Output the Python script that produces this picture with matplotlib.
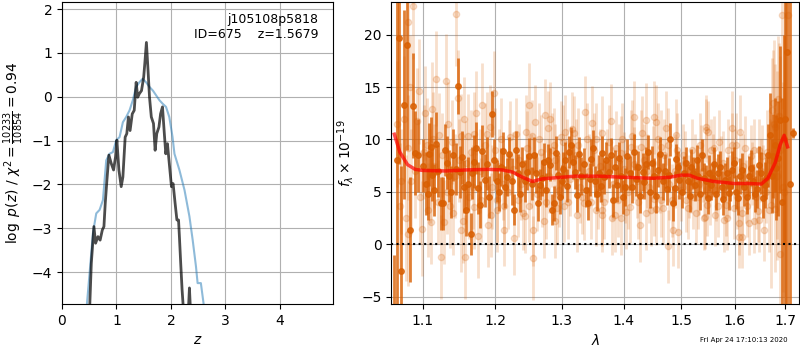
import matplotlib.pyplot as plt

# ---- left panel: log p(z) ----
z_prior = [0.458, 0.507, 0.568, 0.629, 0.69, 0.751, 0.812, 0.874, 0.935, 0.996, 1.057, 1.118,
           1.179, 1.24, 1.30, 1.36, 1.42, 1.48, 1.545, 1.61, 1.67, 1.73, 1.79, 1.85, 1.91,
           1.97, 2.02, 2.03, 2.065, 2.156, 2.25, 2.34, 2.40, 2.46, 2.49, 2.55, 2.60]
logp_prior = [-4.72, -4.02, -3.11, -2.66, -2.58, -2.36, -1.45, -1.30, -1.26, -0.99, -0.92, -0.58,
              -0.46, -0.31, -0.08, 0.22, 0.33, 0.41, 0.33, 0.22, 0.14, 0.03, -0.08, -0.16, -0.23,
              -0.46, -0.84, -0.92, -1.30, -1.67, -2.13, -2.73, -3.27, -3.87, -4.25, -4.25, -4.72]

z_chi = [0.507, 0.538, 0.556, 0.586, 0.617, 0.66, 0.70, 0.74, 0.77, 0.794, 0.825, 0.861, 0.904,
         0.947, 0.983, 1.008, 1.045, 1.087, 1.118, 1.16, 1.19, 1.22, 1.25, 1.29, 1.326, 1.362,
         1.39, 1.42, 1.46, 1.50, 1.52, 1.55, 1.58, 1.607, 1.64, 1.68, 1.71, 1.74, 1.78, 1.81,
         1.845, 1.875, 1.906, 1.936, 1.97, 2.01, 2.04, 2.077, 2.11, 2.14, 2.156, 2.18, 2.205,
         2.23, 2.28, 2.32, 2.34, 2.36]
logp_chi = [-4.86, -3.80, -3.49, -2.96, -3.34, -3.19, -3.27, -3.04, -2.96, -2.43, -1.90, -1.33,
            -1.52, -1.67, -1.37, -0.99, -1.67, -2.05, -1.83, -0.92, -0.84, -0.46, -0.77, -0.39,
            -0.31, 0.33, -0.01, 0.07, 0.14, 0.45, 0.75, 1.24, 0.60, -0.01, -0.46, -0.61, -1.22,
            -0.84, -0.69, -0.39, -0.23, -0.77, -1.30, -1.07, -1.52, -2.05, -1.98, -2.43, -2.81,
            -2.81, -3.19, -3.80, -4.40, -4.86, -5.6, -4.9, -4.36, -4.9]

# ---- right panel: spectrum ----
dark_lam = [1.062, 1.066, 1.069, 1.072, 1.0756, 1.0788, 1.0834, 1.0865, 1.090, 1.0943, 1.1047,
            1.1088, 1.1124, 1.1171, 1.124, 1.1276, 1.1318, 1.1355, 1.141, 1.147, 1.150, 1.1586,
            1.162, 1.1655, 1.170, 1.176, 1.1807, 1.185, 1.188, 1.1917, 1.195,
            1.203, 1.208, 1.214, 1.220, 1.224, 1.228, 1.233, 1.239, 1.244, 1.249, 1.254, 1.260,
            1.266, 1.2725, 1.278, 1.284, 1.2875, 1.294, 1.300, 1.305, 1.311, 1.3175, 1.3245,
            1.330, 1.335, 1.342, 1.347, 1.353, 1.3595, 1.365, 1.370, 1.375, 1.3825, 1.389, 1.396,
            1.403, 1.4106, 1.4176, 1.4247, 1.4324, 1.4383, 1.4459, 1.453, 1.460, 1.4677, 1.4753,
            1.481, 1.4854, 1.4912, 1.497, 1.505, 1.5123, 1.5184, 1.5258, 1.5319, 1.538, 1.546,
            1.552, 1.5552, 1.5613, 1.5687, 1.575, 1.581, 1.589, 1.595, 1.603, 1.611, 1.619,
            1.6276, 1.636, 1.644, 1.6507, 1.6586, 1.670, 1.676, 1.682, 1.690, 1.693, 1.697,
            1.7045, 1.710, 1.7155]
dark_flux = [-12.0, 8.0, 19.7, -2.5, 13.3, 19.0, 1.4, 13.2, 8.7, 8.5, 5.8,
             8.6, 6.6, 9.6, 3.9, 3.9, 7.8, 6.5, 8.5, 15.1, 6.9, 3.3,
             5.8, 1.0, 7.9, 5.4, 8.9, 6.1, 7.7, 4.5, 12.4,
             6.0, 7.4, 5.5, 8.6, 6.0, 3.3, 6.8, 7.7, 6.0, 8.4, 5.8, 6.8,
             5.7, 7.9, 8.0, 3.3, 3.9, 6.6, 6.0, 8.0, 8.8, 7.9, 4.7,
             6.5, 7.7, 3.9, 8.1, 6.0, 6.8, 8.7, 8.0, 6.9, 4.2, 5.7, 6.5,
             5.5, 6.8, 8.8, 7.4, 6.9, 7.7, 5.0, 6.5, 7.1, 6.0, 5.3,
             10.0, 3.9, 8.1, 6.1, 6.8, 6.0, 7.4, 5.7, 6.5, 8.5, 6.0,
             6.8, 5.7, 7.7, 6.8, 5.5, 6.1, 4.9, 7.1, 5.0, 6.5, 5.5,
             6.5, 6.0, 5.3, 6.8, 5.7, 10.4, 8.4, 7.3, 11.9, 4.0, 10.0,
             18.3, 5.8, 10.6]
dark_err = [11.0, 16.0, 12.0, 10.0, 9.0, 10.0, 5.0, 5.0, 4.0, 3.5, 3.0,
            3.0, 2.5, 3.0, 2.5, 2.5, 2.5, 2.5, 2.5, 2.7, 2.5, 2.5,
            2.5, 2.0, 2.5, 2.5, 2.5, 2.5, 2.5, 2.0, 2.2,
            2.0, 1.8, 2.0, 1.6, 2.2, 1.5, 1.8, 1.6, 2.0, 1.7, 1.6, 1.9,
            1.5, 1.8, 1.6, 1.5, 1.7, 1.9, 1.6, 1.8, 1.5, 1.7, 1.6,
            1.8, 1.5, 1.6, 1.9, 1.5, 1.7, 1.6, 1.8, 1.5, 1.6, 1.7, 1.5,
            1.8, 1.6, 1.7, 1.5, 1.8, 1.6, 1.5, 1.7, 1.6, 1.8, 1.5,
            1.6, 1.7, 1.5, 1.8, 1.6, 1.5, 1.7, 1.6, 1.8, 1.5, 1.6,
            1.7, 1.5, 1.6, 1.8, 1.5, 1.7, 1.6, 1.8, 1.6, 1.7, 1.8,
            1.9, 1.7, 1.8, 2.0, 2.2, 4.0, 4.0, 5.0, 7.0, 10.0, 10.0,
            25.0, 30.0, 0.5]

# second batch of dark points filling the gaps between the first
dark2_lam = [1.1005, 1.1065, 1.1105, 1.1148, 1.1205, 1.1297, 1.1385, 1.1445, 1.153, 1.1555,
             1.1675, 1.1732, 1.1785, 1.1985, 1.2055, 1.2115, 1.2165, 1.2305, 1.2365, 1.2465,
             1.2568, 1.263, 1.269, 1.2755, 1.281, 1.291, 1.2968, 1.3025, 1.308, 1.314, 1.321,
             1.3275, 1.3385, 1.3445, 1.350, 1.3565, 1.3625, 1.3675, 1.3785, 1.386, 1.3925,
             1.399, 1.4065, 1.414, 1.421, 1.428, 1.4355, 1.442, 1.4495, 1.4565, 1.4635, 1.471,
             1.478, 1.4885, 1.494, 1.501, 1.5085, 1.5155, 1.522, 1.5285, 1.535, 1.542, 1.549,
             1.558, 1.565, 1.572, 1.578, 1.585, 1.592, 1.599, 1.607, 1.615, 1.623, 1.632,
             1.640, 1.647, 1.655, 1.662, 1.666, 1.673, 1.679, 1.686, 1.700]
dark2_flux = [7.5, 4.8, 9.3, 5.2, 7.0, 9.0, 5.0, 7.2, 8.3, 5.5,
              6.8, 9.2, 3.8, 8.0, 5.0, 8.9, 6.4, 9.0, 4.8, 6.9,
              8.5, 3.9, 6.3, 5.2, 7.6, 8.7, 4.5, 7.2, 5.6, 9.5, 6.9,
              8.6, 5.2, 6.2, 9.2, 4.8, 5.6, 6.4, 8.5, 7.4, 8.2,
              4.5, 8.4, 5.5, 6.2, 4.6, 5.9, 8.8, 7.8, 4.6, 8.6, 7.0,
              6.6, 5.4, 7.4, 5.0, 7.8, 4.6, 6.8, 8.0, 4.8, 6.3, 4.4,
              6.3, 4.8, 7.4, 4.3, 6.8, 5.6, 7.8, 4.4, 7.1, 4.5, 7.3,
              4.8, 7.6, 4.4, 6.3, 8.5, 6.5, 9.5, 8.2, 12.0]
dark2_err = [2.5, 2.5, 2.8, 2.5, 2.5, 2.5, 2.5, 2.5, 2.5, 2.5,
             2.5, 2.5, 2.2, 2.0, 1.8, 1.8, 1.8, 1.8, 1.7, 1.7,
             1.7, 1.7, 1.7, 1.6, 1.6, 1.6, 1.6, 1.6, 1.6, 1.7, 1.6,
             1.6, 1.6, 1.6, 1.7, 1.6, 1.6, 1.6, 1.6, 1.6, 1.6,
             1.6, 1.6, 1.6, 1.6, 1.6, 1.6, 1.6, 1.6, 1.6, 1.6, 1.6,
             1.6, 1.6, 1.5, 1.5, 1.5, 1.5, 1.5, 1.5, 1.5, 1.5, 1.5,
             1.5, 1.5, 1.5, 1.5, 1.5, 1.5, 1.5, 1.6, 1.6, 1.6, 1.7,
             1.7, 1.8, 1.9, 2.0, 3.0, 3.5, 4.5, 5.5, 30.0]

light_lam = [1.066, 1.070, 1.072, 1.080, 1.081, 1.081, 1.085, 1.0876, 1.095, 1.096, 1.101, 1.107,
             1.111, 1.112, 1.118, 1.121, 1.124, 1.128, 1.131, 1.137, 1.139, 1.145, 1.147, 1.152,
             1.152, 1.154, 1.157, 1.161, 1.165, 1.170, 1.170, 1.175, 1.1815, 1.190, 1.193, 1.198,
             1.202, 1.203, 1.209, 1.213, 1.213, 1.220, 1.228, 1.230, 1.233, 1.244, 1.245, 1.249,
             1.250, 1.254, 1.255, 1.256, 1.258, 1.270, 1.2725, 1.274, 1.278, 1.282, 1.290, 1.290,
             1.304, 1.305, 1.308, 1.319, 1.3245, 1.335, 1.337, 1.348, 1.3545, 1.3635, 1.365, 1.365,
             1.3785, 1.3805, 1.386, 1.388, 1.392, 1.395, 1.396, 1.405, 1.4106, 1.412, 1.4176,
             1.4178, 1.428, 1.430, 1.438, 1.438, 1.447, 1.453, 1.456, 1.456, 1.465, 1.465, 1.4735,
             1.4765, 1.4864, 1.4912, 1.4952, 1.510, 1.5184, 1.5215, 1.5305, 1.537, 1.543, 1.544,
             1.546, 1.546, 1.550, 1.5614, 1.568, 1.574, 1.580, 1.586, 1.595, 1.595, 1.608, 1.608,
             1.611, 1.614, 1.6245, 1.631, 1.637, 1.647, 1.647, 1.654, 1.657, 1.6665, 1.673, 1.675,
             1.680, 1.680, 1.686, 1.688, 1.690, 1.693, 1.7065,
             1.09, 1.105, 1.115, 1.133, 1.143, 1.158, 1.168, 1.178, 1.186, 1.196, 1.206, 1.218,
             1.226, 1.237, 1.247, 1.262, 1.268, 1.280, 1.288, 1.296, 1.302, 1.313, 1.322, 1.328,
             1.343, 1.351, 1.358, 1.372, 1.383, 1.400, 1.408, 1.422, 1.435, 1.443, 1.450, 1.462,
             1.470, 1.479, 1.489, 1.500, 1.507, 1.515, 1.525, 1.533, 1.540, 1.553, 1.558, 1.565,
             1.578, 1.590, 1.600, 1.605, 1.617, 1.622, 1.634, 1.641, 1.651, 1.661, 1.669, 1.684,
             1.698]
light_flux = [11.5, 3.7, 6.0, 21.2, 9.2, 1.0, 6.0, 22.7, 14.6, 4.5, 8.8, 3.3,
              2.1, 12.9, 15.8, 10.4, -1.2, 2.1, 15.6, 3.7, 9.8, 22.0, 14.0, 10.3,
              1.4, 2.2, -1.2, 10.3, 8.8, 10.5, 3.6, 0.8, 13.3, 1.8, 11.2, 14.4,
              3.3, 4.2, 10.0, 3.7, 1.4, 8.4, 0.6, 10.5, 4.2, 2.7, 10.7, 13.3,
              3.7, 10.3, 1.4, -1.3, 11.7, 5.2, 2.2, 12.3, 11.1, 12.0, 2.2, 8.0,
              3.7, 10.7, 8.5, 10.6, 2.8, 3.9, 12.6, 11.6, 3.3, 3.3, 10.6, 2.8,
              11.8, 2.5, 2.8, 9.2, 8.0, 8.7, 2.5, 3.1, 3.6, 9.3, 7.7,
              12.1, 1.8, 9.3, 11.9, 3.0, 3.3, 12.1, 11.7, 3.4, 9.3, 4.2, 11.1,
              -0.2, 1.4, 10.4, 1.2, 4.2, 6.0, 4.5, 4.5, 8.4, 2.5, 2.6,
              11.2, 10.9, 10.7, 9.2, 3.7, 7.3, 2.3, 2.5, 11.1, 9.5, 2.0, 0.7,
              10.7, 0.7, 3.7, 8.4, 2.2, 9.0, 2.3, 8.4, 1.4, 3.3, 12.8, 13.5,
              11.2, 3.4, 13.9, 12.2, -0.9, 21.9, 21.9,
              7.0, 9.5, 7.5, 5.0, 6.5, 7.8, 5.5, 7.0, 9.5, 5.5, 7.5, 5.0,
              7.2, 5.8, 9.2, 4.8, 8.8, 6.5, 9.5, 5.2, 9.8, 6.2, 8.5, 5.5,
              7.0, 9.0, 5.0, 7.5, 5.8, 7.2, 5.0, 6.0, 8.0, 5.5, 7.8, 6.5,
              8.5, 5.8, 7.0, 5.2, 7.8, 5.5, 7.5, 5.8, 7.0, 4.8, 7.5, 5.2,
              7.8, 5.5, 8.0, 4.5, 7.5, 5.0, 6.8, 4.5, 7.0, 5.0, 8.0, 6.5,
              5.0]
light_err = [6.0, 6.0, 5.0, 6.0, 5.0, 5.0, 5.0, 5.0, 5.0, 4.5, 4.5, 4.5,
             4.0, 4.5, 4.5, 4.0, 4.0, 4.0, 4.5, 4.0, 4.0, 5.0, 4.5, 4.0,
             4.0, 4.0, 4.0, 4.0, 4.0, 4.0, 4.0, 4.0, 4.0, 4.0, 4.0, 4.0,
             4.0, 4.0, 4.0, 3.5, 3.5, 3.5, 3.5, 3.5, 3.5, 3.5, 3.5, 4.0,
             3.5, 3.5, 3.5, 4.0, 3.5, 3.5, 3.5, 3.5, 3.5, 3.5, 3.5, 3.5,
             3.5, 3.5, 3.5, 3.5, 3.5, 3.5, 3.5, 3.5, 3.5, 3.5, 3.5, 3.5,
             3.5, 3.5, 3.5, 3.5, 3.5, 3.5, 3.5, 3.5, 3.5, 3.5, 3.5,
             3.5, 3.5, 3.5, 3.5, 3.5, 3.5, 3.5, 3.5, 3.5, 3.5, 3.5, 3.5,
             3.5, 3.5, 3.5, 3.5, 3.0, 3.0, 3.0, 3.0, 3.0, 3.0, 3.0,
             3.0, 3.0, 3.0, 3.0, 3.0, 3.0, 3.0, 3.0, 3.5, 3.0, 3.0, 3.0,
             3.5, 3.0, 3.0, 3.0, 3.0, 3.0, 3.0, 3.0, 3.0, 4.0, 5.0, 5.0,
             6.0, 6.0, 6.0, 7.0, 8.0, 9.0, 10.0,
             4.5, 4.5, 4.0, 4.0, 4.0, 4.0, 4.0, 4.0, 4.0, 4.0, 3.5, 3.5,
             3.5, 3.5, 3.5, 3.5, 3.5, 3.5, 3.5, 3.5, 3.5, 3.5, 3.5, 3.5,
             3.5, 3.5, 3.5, 3.5, 3.5, 3.5, 3.5, 3.5, 3.5, 3.5, 3.5, 3.5,
             3.5, 3.5, 3.5, 3.0, 3.0, 3.0, 3.0, 3.0, 3.0, 3.0, 3.0, 3.0,
             3.0, 3.0, 3.0, 3.0, 3.0, 3.0, 3.0, 3.0, 3.0, 3.0, 4.0, 6.0,
             10.0]

# second batch of faint points
light2_lam = [1.075, 1.078, 1.083, 1.092, 1.099, 1.103, 1.109, 1.114, 1.120, 1.126, 1.134,
              1.141, 1.149, 1.156, 1.163, 1.172, 1.180, 1.188, 1.194, 1.200, 1.211, 1.222,
              1.235, 1.241, 1.252, 1.265, 1.276, 1.285, 1.293, 1.299, 1.310, 1.316, 1.326,
              1.332, 1.340, 1.346, 1.355, 1.361, 1.368, 1.375, 1.390, 1.398, 1.403, 1.415,
              1.425, 1.432, 1.440, 1.452, 1.459, 1.468, 1.476, 1.484, 1.493, 1.503, 1.512,
              1.520, 1.528, 1.535, 1.548, 1.556, 1.563, 1.571, 1.583, 1.588, 1.598, 1.603,
              1.615, 1.620, 1.628, 1.638, 1.645, 1.655, 1.663, 1.671, 1.677, 1.683, 1.689,
              1.695]
light2_flux = [12.0, 2.5, 15.0, 11.8, 1.5, 12.5, 6.5, 10.0, 4.0, 8.5, 11.5,
               3.0, 8.0, 12.0, 4.5, 12.5, 4.2, 10.5, 2.8, 9.0, 5.8, 10.2,
               8.0, 3.0, 7.0, 10.0, 4.0, 9.0, 3.5, 10.2, 4.0, 11.0, 9.5,
               4.5, 10.0, 4.0, 10.0, 7.5, 4.0, 9.8, 4.2, 10.0, 5.5, 10.3,
               4.0, 10.6, 7.0, 4.3, 10.0, 3.5, 9.5, 4.2, 9.0, 8.5, 3.5,
               9.0, 3.0, 9.5, 3.8, 9.0, 2.8, 9.8, 3.8, 9.0, 3.5, 9.5,
               3.0, 9.2, 2.0, 9.0, 3.2, 6.0, 8.8, 3.8, 11.5, 7.5, 9.0,
               5.5]
light2_err = [6.0, 6.0, 5.0, 5.0, 4.5, 4.5, 4.5, 4.5, 4.0, 4.0, 4.0,
              4.0, 4.0, 4.0, 4.0, 4.0, 4.0, 4.0, 4.0, 4.0, 3.5, 3.5,
              3.5, 3.5, 3.5, 3.5, 3.5, 3.5, 3.5, 3.5, 3.5, 3.5, 3.5,
              3.5, 3.5, 3.5, 3.5, 3.5, 3.5, 3.5, 3.5, 3.5, 3.5, 3.5,
              3.5, 3.5, 3.5, 3.5, 3.5, 3.5, 3.5, 3.5, 3.5, 3.0, 3.0,
              3.0, 3.0, 3.0, 3.0, 3.0, 3.0, 3.0, 3.0, 3.0, 3.0, 3.0,
              3.0, 3.0, 3.0, 3.0, 3.0, 3.5, 4.0, 8.0, 8.0, 9.0, 9.0,
              10.0]

model_lam = [1.063, 1.07, 1.08, 1.09, 1.10, 1.13, 1.16, 1.19, 1.21, 1.225, 1.24, 1.255, 1.27,
             1.29, 1.32, 1.36, 1.40, 1.45, 1.48, 1.50, 1.515, 1.53, 1.56, 1.60, 1.63, 1.652,
             1.665, 1.68, 1.69, 1.698, 1.705]
model_flux = [10.5, 8.8, 7.6, 7.15, 7.05, 7.0, 7.1, 7.15, 7.1, 6.9, 6.4, 6.0, 6.25,
              6.35, 6.5, 6.5, 6.4, 6.3, 6.4, 6.6, 6.6, 6.3, 6.0, 5.8, 5.8, 5.75,
              6.3, 7.8, 9.5, 10.4, 9.3]

lam_ticks = [1.1, 1.2, 1.3, 1.4, 1.5, 1.6, 1.7]
orange = '#d95f02'

fig = plt.figure(figsize=(8, 3.5), dpi=100)

ax1 = fig.add_axes([0.0775, 0.131, 0.339, 0.863])
ax1.plot(z_prior, logp_prior, color='#1f77b4', alpha=0.5, lw=1.5)
ax1.plot(z_chi, logp_chi, color='k', alpha=0.7, lw=2)
ax1.set_xlim(0, 4.98)
ax1.set_ylim(-4.73, 2.16)
ax1.set_xticks([0, 1, 2, 3, 4])
ax1.grid()
ax1.set_xlabel('$z$')
ax1.set_ylabel(r'$\log\ p(z)$ / $\chi^2=\frac{10233}{10854}=0.94$')
ax1.text(0.945, 0.965, 'j105108p5818\nID=675    z=1.5679', ha='right', va='top',
         fontsize=9, transform=ax1.transAxes)

ax2 = fig.add_axes([0.489, 0.131, 0.510, 0.863])
ax2.set_xscale('log')
for lam, flux, err in [(light_lam, light_flux, light_err), (light2_lam, light2_flux, light2_err)]:
    ax2.errorbar(lam, flux, yerr=err, fmt='o', color=orange, alpha=0.2,
                 ms=4.5, elinewidth=2, linestyle='none')
for lam, flux, err in [(dark_lam, dark_flux, dark_err), (dark2_lam, dark2_flux, dark2_err)]:
    ax2.errorbar(lam, flux, yerr=err, fmt='o', color=orange, alpha=0.8,
                 ms=4, elinewidth=2, linestyle='none')
ax2.plot(model_lam, model_flux, color='r', lw=2.5, alpha=0.7, zorder=5)
ax2.axhline(0, color='k', ls=':', lw=1.5, zorder=6)
ax2.set_xlim(1.059, 1.729)
ax2.set_ylim(-5.7, 23.1)
ax2.set_xticks(lam_ticks, [str(t) for t in lam_ticks])
ax2.set_xticks([], minor=True)
ax2.grid()
ax2.set_xlabel(r'$\lambda$')
ax2.set_ylabel(r'$f_\lambda\times10^{-19}$')

fig.text(0.985, 0.029, 'Fri Apr 24 17:10:13 2020', fontsize=5, ha='right', va='center')

fig.savefig('out.png', dpi=100)
